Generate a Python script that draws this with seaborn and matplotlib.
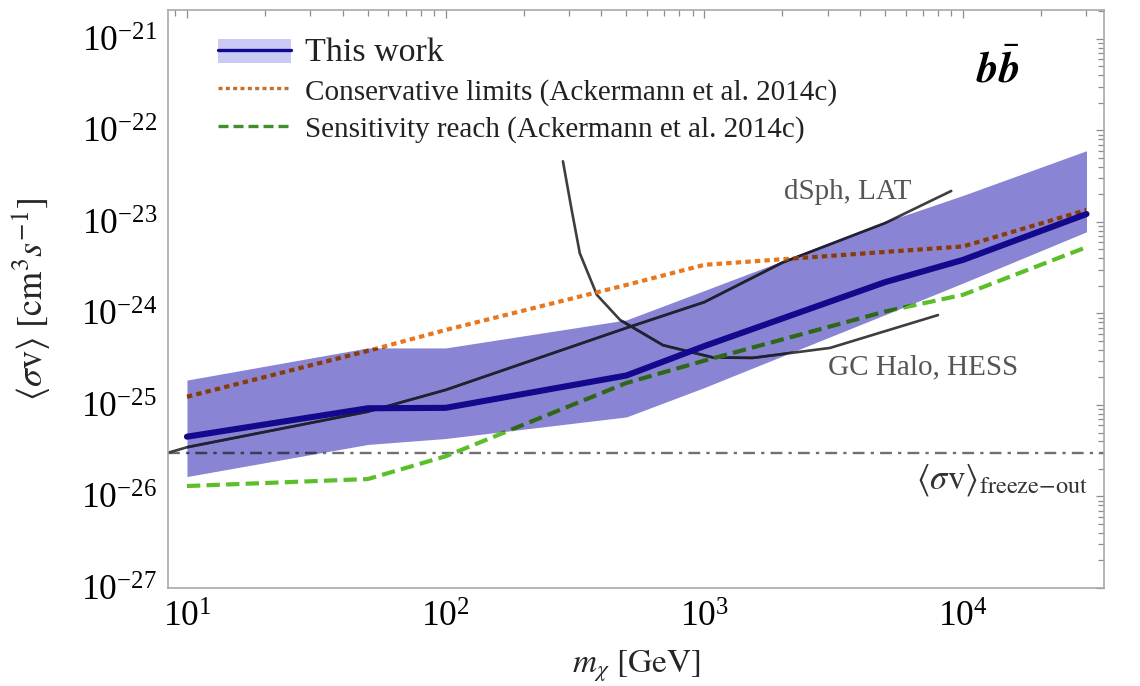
import numpy as np
import pandas as pd
import seaborn as sns
import matplotlib
matplotlib.use("Agg")
import matplotlib.pyplot as plt
from matplotlib.lines import Line2D
from matplotlib.patches import Patch
from matplotlib.colors import to_rgb
from matplotlib import ticker

# ---------------- data ----------------
mass = [10, 50, 100, 500, 1000, 5000, 10000, 30000]
this_work = [4.5e-26, 9.2e-26, 9.3e-26, 2.1e-25, 4.4e-25, 2.2e-24, 3.85e-24, 1.22e-23]
band_low = [1.65e-26, 3.7e-26, 4.3e-26, 7.4e-26, 1.55e-25, 9.7e-25, 2.15e-24, 7.8e-24]
band_high = [1.87e-25, 4.2e-25, 4.2e-25, 8.5e-25, 1.78e-24, 1.0e-23, 1.95e-23, 6.0e-23]
conservative = [1.23e-25, 3.9e-25, 6.6e-25, 2.05e-24, 3.4e-24, 4.7e-24, 5.4e-24, 1.35e-23]
sensitivity = [1.3e-26, 1.55e-26, 2.75e-26, 1.74e-25, 3.05e-25, 1.05e-24, 1.6e-24, 5.3e-24]

dsph_mass = [8.45, 10, 50, 100, 500, 1000, 2000, 5000, 9000]
dsph_lat = [3.0e-26, 3.45e-26, 8.45e-26, 1.46e-25, 6.95e-25, 1.33e-24, 3.59e-24, 9.75e-24, 2.18e-23]

gc_mass = [284, 307, 330, 384, 472, 692, 1080, 1540, 3060, 8000]
gc_hess = [4.6e-23, 1.35e-23, 4.55e-24, 1.6e-24, 8.5e-25, 4.5e-25, 3.3e-25, 3.27e-25, 4.2e-25, 9.6e-25]

freeze_out = 3.0e-26

y_major = [1e-27, 1e-26, 1e-25, 1e-24, 1e-23, 1e-22, 1e-21]
x_major = [1e1, 1e2, 1e3, 1e4]

legend_labels = ["This work",
                 "Conservative limits (Ackermann et al. 2014c)",
                 "Sensitivity reach (Ackermann et al. 2014c)"]

# ---------------- style ----------------
sns.set_theme(style="white")
plt.rcParams["font.family"] = ["Liberation Serif", "DejaVu Serif"]
plt.rcParams["mathtext.fontset"] = "stix"
plt.rcParams["axes.unicode_minus"] = True

navy = "#12098c"
band_col = "#8a84d4"
orange = "#e8771e"
green = "#5cbf2a"
dark_grey = "#3e3e3e"
fo_grey = "#707070"


def multiplied(c):
    return tuple(a * b for a, b in zip(to_rgb(c), to_rgb(band_col)))


fig = plt.figure(figsize=(11.4, 6.86), dpi=100)
ax = fig.add_axes([0.1474, 0.1429, 0.8210, 0.8425])
ax.set_xscale("log")
ax.set_yscale("log")

band = ax.fill_between(mass, band_low, band_high, color=band_col, lw=0, zorder=1)
clip_path = band.get_paths()[0]


def draw(x, y, color, ls, lw, z, under_band=True):
    df = pd.DataFrame({"x": x, "y": y})
    sns.lineplot(data=df, x="x", y="y", ax=ax, color=color, linestyle=ls,
                 linewidth=lw, zorder=z, sort=False, estimator=None)
    if under_band:
        sns.lineplot(data=df, x="x", y="y", ax=ax, color=multiplied(color),
                     linestyle=ls, linewidth=lw, zorder=z + 0.05, sort=False,
                     estimator=None)
        ax.lines[-1].set_clip_path(clip_path, ax.transData)


# freeze-out line
fo_ls = (0, (5, 2.6, 1.4, 2.6))
ax.axhline(freeze_out, color=fo_grey, lw=1.7, ls=fo_ls, zorder=1.5)
l2 = ax.axhline(freeze_out, color=multiplied(fo_grey), lw=1.7, ls=fo_ls, zorder=1.55)
l2.set_clip_path(clip_path, ax.transData)

draw(dsph_mass, dsph_lat, dark_grey, "-", 1.9, 2)
draw(gc_mass, gc_hess, dark_grey, "-", 1.9, 2)
draw(mass, conservative, orange, (0, (1.3, 1.0)), 3.0, 2.2)
draw(mass, sensitivity, green, (0, (3.2, 1.5)), 3.0, 2.2)
draw(mass, this_work, navy, "-", 4.4, 3, under_band=False)

ax.set_xlim(8.45, 35050)
ax.set_ylim(1e-27, 2.07e-21)

# ---------------- axes cosmetics ----------------
for sp in ax.spines.values():
    sp.set_color("#a8a8a8")
    sp.set_linewidth(1.2)
ax.yaxis.set_major_locator(ticker.FixedLocator(y_major))
ax.xaxis.set_major_locator(ticker.FixedLocator(x_major))
ax.yaxis.set_major_formatter(ticker.LogFormatterSciNotation())
ax.xaxis.set_major_formatter(ticker.LogFormatterSciNotation())
ax.yaxis.set_minor_locator(ticker.LogLocator(base=10, subs=np.arange(2, 10), numticks=100))
ax.xaxis.set_minor_locator(ticker.LogLocator(base=10, subs=np.arange(2, 10), numticks=100))
ax.yaxis.set_minor_formatter(ticker.NullFormatter())
ax.xaxis.set_minor_formatter(ticker.NullFormatter())
ax.tick_params(which="both", direction="in", top=True, right=True,
               color="#8c8c8c", width=0.9, labelsize=25.5, labelcolor="black")
ax.tick_params(which="major", length=6)
ax.tick_params(which="minor", length=4)
ax.tick_params(axis="x", pad=10)
ax.tick_params(axis="y", pad=8)

ax.set_xlabel(r"$m_\chi\ [\mathrm{GeV}]$", fontsize=24)
ax.set_ylabel(r"$\langle\sigma\mathrm{v}\rangle\ [\mathrm{cm}^3 s^{-1}]$", fontsize=26)
ax.xaxis.set_label_coords(0.5, -0.104)
ax.yaxis.set_label_coords(-0.124, 0.5)

# ---------------- annotations ----------------
ax.text(3590, 2.13e-23, "dSph, LAT", fontsize=21, color="#555555", ha="center", va="center")
ax.text(7000, 2.6e-25, "GC Halo, HESS", fontsize=21, color="#555555", ha="center", va="center")
ax.text(30400, 1.5e-26, r"$\langle\sigma\mathrm{v}\rangle_{\mathrm{freeze{-}out}}$",
        fontsize=25, color="#333333", ha="right", va="center")
ax.text(13650, 4.5e-22, r"$\mathbfit{b}\bar{\mathbfit{b}}$", fontsize=31,
        color="black", ha="center", va="center")

# ---------------- legend ----------------
handles = [
    (Patch(facecolor="#cbcaf5", edgecolor="none"), Line2D([], [], color=navy, lw=2.4)),
    Line2D([], [], color="#c0702a", lw=2.4, ls=(0, (1.2, 1.0))),
    Line2D([], [], color="#3f8f2a", lw=2.4, ls=(0, (3.0, 1.5))),
]
leg = ax.legend(handles, legend_labels, loc="upper left", bbox_to_anchor=(0.053, 0.953),
                frameon=False, fontsize=21, handlelength=2.5, handleheight=0.9,
                handletextpad=0.5, labelspacing=0.32, borderpad=0, borderaxespad=0)
leg.get_texts()[0].set_fontsize(24.5)
for t in leg.get_texts():
    t.set_color("#222222")

fig.savefig("out.png", dpi=100)
